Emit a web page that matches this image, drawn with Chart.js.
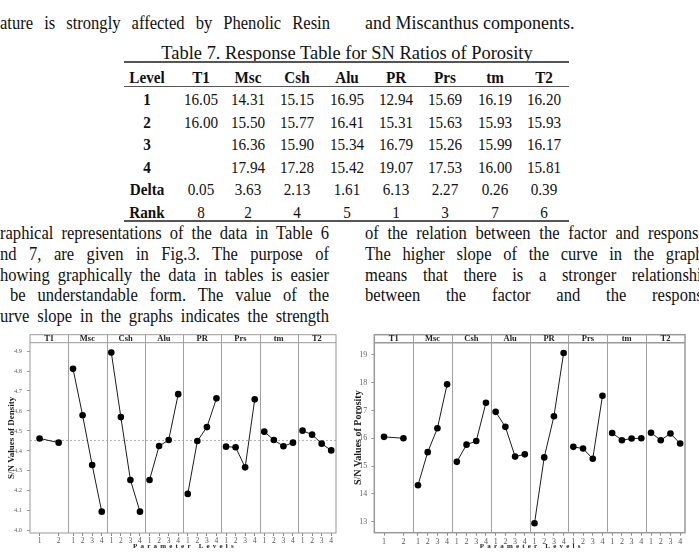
<!DOCTYPE html>
<html>
<head>
<meta charset="utf-8">
<script src="https://cdn.jsdelivr.net/npm/chart.js@4.4.1/dist/chart.umd.min.js"></script>
<style>
  body { margin: 0; width: 699px; height: 553px; overflow: hidden; position: relative; background: #fff;
         font-family: 'Liberation Serif', 'Times New Roman', serif; color: #111; }
  .ln { position: absolute; white-space: nowrap; font-size: 18px; line-height: 20px; transform-origin: 0 50%; transform: scaleX(0.92); }
  .cell { position: absolute; white-space: nowrap; font-size: 16.5px; line-height: 20px; transform: translateX(-50%) scaleX(0.92); }
  .rule { position: absolute; left: 124px; width: 445px; background: #555; }
  .box { position: absolute; }
</style>
</head>
<body>
<div id="page"></div>
<div class="box" style="left:0;top:326px;width:340px;height:227px"><canvas id="densityChart"></canvas></div>
<div class="box" style="left:340px;top:326px;width:359px;height:227px"><canvas id="porosityChart"></canvas></div>
<script>
const factors = ['T1', 'Msc', 'Csh', 'Alu', 'PR', 'Prs', 'tm', 'T2'];

// S/N of density
const densityT1 = [4.462, 4.441];
const densityMsc = [4.811, 4.578, 4.329, 4.095];
const densityCsh = [4.893, 4.569, 4.254, 4.095];
const densityAlu = [4.254, 4.424, 4.454, 4.684];
const densityPR = [4.184, 4.449, 4.519, 4.663];
const densityPrs = [4.421, 4.418, 4.317, 4.658];
const densityTm = [4.496, 4.454, 4.423, 4.441];
const densityT2 = [4.501, 4.481, 4.436, 4.402];
const densityMean = 4.452;
const densityTicks = [4.0, 4.1, 4.2, 4.3, 4.4, 4.5, 4.6, 4.7, 4.8, 4.9];

// S/N of porosity (Table 7)
const porosityT1 = [16.05, 16.00];
const porosityMsc = [14.31, 15.50, 16.36, 17.94];
const porosityCsh = [15.15, 15.77, 15.90, 17.28];
const porosityAlu = [16.95, 16.41, 15.34, 15.42];
const porosityPR = [12.94, 15.31, 16.79, 19.07];
const porosityPrs = [15.69, 15.63, 15.26, 17.53];
const porosityTm = [16.19, 15.93, 15.99, 16.00];
const porosityT2 = [16.20, 15.93, 16.17, 15.81];
const porosityDelta = [0.05, 3.63, 2.13, 1.61, 6.13, 2.27, 0.26, 0.39];
const porosityRank = [8, 2, 4, 5, 1, 3, 7, 6];
const porosityTicks = [13, 14, 15, 16, 17, 18, 19];

const densitySeries = [densityT1, densityMsc, densityCsh, densityAlu, densityPR, densityPrs, densityTm, densityT2];
const porositySeries = [porosityT1, porosityMsc, porosityCsh, porosityAlu, porosityPR, porosityPrs, porosityTm, porosityT2];

// ---- page text ----
const page = document.getElementById('page');
const SX = 0.92;

function addLine(text, left, cy, width) {
    const el = document.createElement('div');
    el.className = 'ln';
    el.textContent = text;
    el.style.left = left + 'px';
    el.style.top = (cy - 10) + 'px';
    page.appendChild(el);
    if (width) {
        const spaces = text.split(' ').length - 1;
        const extra = (width - el.getBoundingClientRect().width) / SX;
        if (spaces > 0) el.style.wordSpacing = (extra / spaces) + 'px';
    }
    return el;
}

addLine('ature is strongly affected by Phenolic Resin', 0, 23, 330);
addLine('and Miscanthus components.', 365, 23).style.transform = 'none';

const cap = document.createElement('div');
cap.className = 'cell';
cap.style.cssText = 'left:347px;top:43px;font-size:19px;transform:translateX(-50%) scaleX(0.97)';
cap.textContent = 'Table 7. Response Table for SN Ratios of Porosity';
page.appendChild(cap);

[[62.3, 2], [86.3, 1.5], [221, 2]].forEach(([y, h]) => {
    const r = document.createElement('div');
    r.className = 'rule';
    r.style.top = (y - h / 2) + 'px';
    r.style.height = h + 'px';
    page.appendChild(r);
});

const colX = [147, 200.5, 248, 297, 347, 396, 445, 495, 544];
const rowY = [77.7, 100, 123, 145, 168, 190, 213];

function addCell(text, x, cy, bold) {
    const c = document.createElement('div');
    c.className = 'cell';
    c.style.left = x + 'px';
    c.style.top = (cy - 10) + 'px';
    if (bold) c.style.fontWeight = 'bold';
    c.textContent = text;
    page.appendChild(c);
}

addCell('Level', colX[0], rowY[0], true);
factors.forEach((f, k) => addCell(f, colX[k + 1], rowY[0], true));
['1', '2', '3', '4'].forEach((lv, i) => {
    addCell(lv, colX[0], rowY[i + 1], true);
    porositySeries.forEach((vals, k) => {
        if (i < vals.length) addCell(vals[i].toFixed(2), colX[k + 1], rowY[i + 1]);
    });
});
addCell('Delta', colX[0], rowY[5], true);
porosityDelta.forEach((v, k) => addCell(v.toFixed(2), colX[k + 1], rowY[5]));
addCell('Rank', colX[0], rowY[6], true);
porosityRank.forEach((v, k) => addCell(String(v), colX[k + 1], rowY[6]));

addLine('raphical representations of the data in Table 6', 0, 233, 329);
addLine('nd 7, are given in Fig.3. The purpose of', 0, 254, 329);
addLine('howing graphically the data in tables is easier', 0, 275, 329);
addLine('be understandable form. The value of the', 10, 295, 319);
addLine('urve slope in the graphs indicates the strength', 0, 316, 329);
addLine('of the relation between the factor and response.', 365, 233, 345);
addLine('The higher slope of the curve in the graphs', 365, 254, 345);
addLine('means that there is a stronger relationship', 365, 275, 345);
addLine('between the factor and the response', 365, 295, 345);

// ---- main effects plots ----
function levelX(k, i, n) {
    return k * 4 + (n === 2 ? 1 + 2 * i : 0.5 + i);
}

function panelsPlugin(cfg) {
    return {
        id: 'panels',
        beforeDatasetsDraw(chart) {
            const { ctx, chartArea: a, scales: { x, y } } = chart;
            const top = a.top - cfg.header;
            ctx.save();
            if (cfg.mean != null) {
                const py = y.getPixelForValue(cfg.mean);
                ctx.strokeStyle = '#b0b0b0';
                ctx.lineWidth = 1;
                ctx.setLineDash([2, 2]);
                ctx.beginPath(); ctx.moveTo(a.left, py); ctx.lineTo(a.right, py); ctx.stroke();
                ctx.setLineDash([]);
            }
            ctx.strokeStyle = cfg.frame;
            ctx.lineWidth = cfg.frameWidth;
            ctx.strokeRect(a.left, top, a.right - a.left, a.bottom - top);
            ctx.beginPath(); ctx.moveTo(a.left, a.top); ctx.lineTo(a.right, a.top); ctx.stroke();
            ctx.strokeStyle = '#a0a0a0';
            ctx.lineWidth = 1;
            ctx.fillStyle = '#222';
            ctx.font = 'bold 8.5px "Liberation Serif"';
            ctx.textAlign = 'center';
            ctx.textBaseline = 'middle';
            factors.forEach((f, k) => {
                if (k > 0) {
                    const px = Math.round(x.getPixelForValue(k * 4)) + 0.5;
                    ctx.beginPath(); ctx.moveTo(px, top); ctx.lineTo(px, a.bottom); ctx.stroke();
                }
                ctx.fillText(f, x.getPixelForValue(k * 4 + 2), top + cfg.header / 2 + 0.5);
            });
            ctx.font = 'bold 7px "Liberation Serif"';
            ctx.letterSpacing = '3.2px';
            ctx.fillText('Parameter Levels', (a.left + a.right) / 2 + 2, cfg.titleY);
            ctx.restore();
        }
    };
}

function makeEffectsChart(id, series, cfg) {
    const tickPos = [];
    const tickLbl = [];
    series.forEach((vals, k) => vals.forEach((v, i) => {
        tickPos.push(levelX(k, i, vals.length));
        tickLbl.push(String(i + 1));
    }));

    new Chart(document.getElementById(id), {
        type: 'line',
        data: {
            datasets: series.map((vals, k) => ({
                label: factors[k],
                data: vals.map((v, i) => ({ x: levelX(k, i, vals.length), y: v })),
                borderColor: '#1c1c1c',
                borderWidth: 1,
                pointRadius: 3.3,
                pointBackgroundColor: '#000',
                pointBorderColor: '#000',
                pointBorderWidth: 0,
                tension: 0
            }))
        },
        options: {
            responsive: true,
            maintainAspectRatio: false,
            animation: false,
            layout: { padding: cfg.padding },
            plugins: { legend: { display: false }, tooltip: { enabled: false } },
            scales: {
                x: {
                    type: 'linear',
                    min: 0,
                    max: 32,
                    afterBuildTicks: axis => { axis.ticks = tickPos.map(v => ({ value: v })); },
                    afterFit: s => { s.height = cfg.xHeight; },
                    ticks: {
                        autoSkip: false, maxRotation: 0, minRotation: 0, padding: 1,
                        color: '#555', font: { family: 'Liberation Serif', size: cfg.xTickSize },
                        callback: (v, i) => tickLbl[i]
                    },
                    grid: { drawOnChartArea: false, drawTicks: true, tickLength: 3, color: '#888' },
                    border: { display: false }
                },
                y: {
                    min: cfg.yMin,
                    max: cfg.yMax,
                    afterBuildTicks: axis => { axis.ticks = cfg.ticks.map(v => ({ value: v })); },
                    afterFit: s => { s.width = cfg.yWidth; },
                    ticks: {
                        padding: cfg.yTickPad,
                        color: '#666', font: { family: 'Liberation Serif', size: cfg.yTickSize },
                        callback: v => cfg.fmt(v)
                    },
                    grid: { drawOnChartArea: false, drawTicks: true, tickLength: 3, color: '#999' },
                    border: { display: false },
                    title: {
                        display: true, text: cfg.yTitle, color: '#1a1a1a', padding: 0,
                        font: { family: 'Liberation Serif', size: cfg.yTitleSize, weight: 'bold' }
                    }
                }
            }
        },
        plugins: [panelsPlugin(cfg)]
    });
}

makeEffectsChart('densityChart', densitySeries, {
    padding: { top: 16.7, right: 2.3, left: 6, bottom: 0 },
    xHeight: 20, yWidth: 24, yTickPad: 5, yTickSize: 6.5, xTickSize: 7.5, yTitleSize: 9,
    yMin: 3.988, yMax: 4.942, ticks: densityTicks, fmt: v => v.toFixed(1),
    yTitle: 'S/N Values of Density', mean: densityMean,
    header: 8, frame: '#999', frameWidth: 1, titleY: 220
});

makeEffectsChart('porosityChart', porositySeries, {
    padding: { top: 16.7, right: 14, left: 12, bottom: 0 },
    xHeight: 20.3, yWidth: 22.3, yTickPad: 4, yTickSize: 8, xTickSize: 8, yTitleSize: 10,
    yMin: 12.6, yMax: 19.44, ticks: porosityTicks, fmt: v => String(v),
    yTitle: 'S/N Values of Porosity', mean: null,
    header: 8, frame: '#999', frameWidth: 1.5, titleY: 220
});
</script>
</body>
</html>
